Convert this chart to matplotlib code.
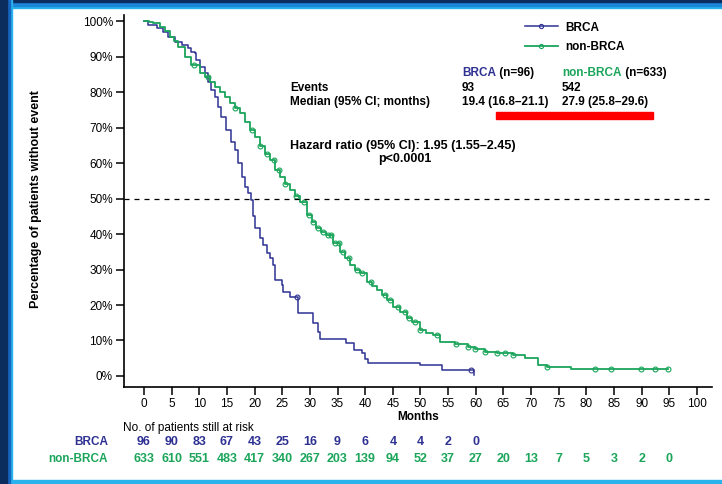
import numpy as np
import matplotlib
matplotlib.use("Agg")
import matplotlib.pyplot as plt
from matplotlib.patches import Rectangle
from matplotlib.lines import Line2D

plt.rcParams['font.family'] = ['Liberation Sans', 'DejaVu Sans']

BLUE = '#2e3192'
GREEN = '#1aa55a'

# Kaplan-Meier steps (months, % without event)
brca_t = [0, 0.8, 2.3, 3.5, 4.4, 5.6, 6.8, 8.0, 8.6, 9.2, 9.5, 10.1, 11.0, 11.6,
          12.2, 12.8, 13.4, 14.0, 14.9, 15.8, 16.5, 17.0, 17.7, 18.3, 18.9, 19.4,
          19.7, 20.1, 21.0, 21.5, 22.2, 22.8, 23.3, 23.7, 24.9, 25.2, 26.5, 27.9,
          30.6, 31.5, 31.8, 36.6, 37.9, 39.4, 40.0, 40.6, 49.9, 53.8, 59.6]
brca_s = [100, 98.9, 98.0, 97.0, 95.6, 94.2, 93.2, 92.3, 91.4, 90.9, 89.0, 87.1,
          85.3, 82.9, 80.6, 78.7, 75.8, 73.0, 69.3, 66.0, 63.7, 59.9, 56.1, 53.3,
          51.5, 49.6, 45.0, 41.7, 38.8, 36.9, 34.6, 33.2, 31.3, 27.0, 25.6, 23.7,
          22.3, 17.7, 14.9, 12.5, 10.4, 9.4, 7.3, 6.4, 4.8, 3.8, 3.1, 1.7, 0.3]
brca_cens = [27.6, 59.2]

non_t = [0, 1.0, 1.7, 2.9, 3.8, 4.7, 5.5, 6.2, 7.4, 8.6, 10.1, 11.0, 11.9, 12.8,
         13.7, 14.6, 15.6, 16.5, 17.4, 18.3, 19.2, 20.1, 21.0, 21.9, 22.8, 23.7,
         24.6, 25.5, 26.4, 27.3, 28.2, 29.4, 30.3, 31.2, 32.1, 33.0, 34.2, 35.4,
         36.3, 37.3, 38.2, 39.1, 40.3, 41.2, 42.1, 43.0, 43.9, 45.1, 46.3, 47.5,
         48.5, 49.9, 51.0, 52.3, 53.5, 56.2, 58.6, 59.9, 61.7, 63.8, 66.8, 68.9,
         71.3, 72.8, 75.2, 77.3, 94.8]
non_s = [100, 99.7, 99.5, 98.4, 97.2, 95.6, 94.3, 92.8, 90.0, 87.6, 85.3, 84.2,
         82.9, 81.5, 80.1, 78.5, 76.8, 75.4, 74.0, 71.5, 69.3, 67.2, 64.8, 62.5,
         60.8, 58.0, 56.1, 54.0, 52.4, 50.6, 49.1, 45.4, 43.5, 41.6, 40.6, 39.7,
         37.4, 35.0, 33.2, 31.3, 30.0, 28.9, 26.6, 25.4, 24.2, 22.8, 21.4, 19.5,
         18.1, 16.2, 15.3, 13.0, 12.2, 11.5, 9.7, 8.9, 8.2, 7.5, 6.8, 6.6, 5.9,
         5.0, 3.1, 2.6, 2.4, 1.9, 1.9]
non_cens = [9.0, 11.5, 16.5, 19.5, 21.0, 22.3, 23.5, 24.5, 25.5, 27.5, 29.0, 29.8,
            30.5, 31.5, 32.3, 33.2, 33.8, 34.5, 35.2, 36.0, 37.0, 38.5, 39.5, 41.0,
            43.5, 44.5, 46.0, 47.2, 48.0, 49.0, 50.0, 53.0, 56.5, 58.6, 59.9, 61.7,
            63.8, 65.2, 66.8, 72.8, 81.6, 84.4, 89.8, 92.4, 94.7]

# numbers at risk
risk_months = [0, 5, 10, 15, 20, 25, 30, 35, 40, 45, 50, 55, 60, 65, 70, 75, 80, 85, 90, 95]
brca_risk = [96, 90, 83, 67, 43, 25, 16, 9, 6, 4, 4, 2, 0]
non_risk = [633, 610, 551, 483, 417, 340, 267, 203, 139, 94, 52, 37, 27, 20, 13, 7, 5, 3, 2, 0]


def surv_at(times, ts, ss):
    idx = np.searchsorted(ts, times, side='right') - 1
    return np.array(ss)[idx]


W, H = 722, 484
fig = plt.figure(figsize=(W / 100, H / 100), dpi=100)
fig.patch.set_facecolor('white')

# slide frame
def px_rect(x0, y0, w, h, c, z=0):
    fig.patches.append(Rectangle((x0 / W, 1 - (y0 + h) / H), w / W, h / H,
                                 transform=fig.transFigure, color=c, zorder=z))

px_rect(0, 0, W, 8, '#29b2ec')
px_rect(0, 0, W, 6, '#1b86d8')
px_rect(0, 0, W, 2, '#0b2d5e')
px_rect(0, 480, W, 4, '#29b2ec')
px_rect(0, 0, 12, H, '#29b2ec')
px_rect(0, 0, 10, H, '#1665c1')
px_rect(0, 0, 7, H, '#0b2d5e')

ax = fig.add_axes([124 / W, 1 - 387 / H, (712 - 124) / W, (387 - 15) / H])
ax.set_xlim(-3.6, 102.7)
ax.set_ylim(-3.1, 101.7)

ax.step(brca_t, brca_s, where='post', color=BLUE, lw=1.1)
ax.step(non_t, non_s, where='post', color=GREEN, lw=1.3)
ax.plot(brca_cens, surv_at(brca_cens, brca_t, brca_s), 'o', ms=3.5, mfc='none',
        mec=BLUE, mew=0.8)
ax.plot(non_cens, surv_at(non_cens, non_t, non_s), 'o', ms=3.5, mfc='none',
        mec=GREEN, mew=0.8)

ax.axhline(50, color='black', lw=0.9, ls=(0, (4, 4)))

for s in ['top', 'right']:
    ax.spines[s].set_visible(False)
for s in ['left', 'bottom']:
    ax.spines[s].set_linewidth(1.2)

ax.set_xticks(np.arange(0, 101, 5))
ax.set_yticks(np.arange(0, 101, 10))
ax.set_yticklabels([f'{v}%' for v in range(0, 101, 10)])
ax.tick_params(axis='both', direction='out', length=6, width=1.1, labelsize=8.5, pad=2)
ax.set_xlabel('Months', fontsize=8.5, fontweight='bold', labelpad=1)
fig.text(36 / W, 1 - 199 / H, 'Percentage of patients without event', rotation=90,
         ha='center', va='center', fontsize=9, fontweight='bold')

# legend
handles = [Line2D([], [], color=BLUE, lw=1.1, marker='o', ms=3, mfc='none', mew=0.8),
           Line2D([], [], color=GREEN, lw=1.3, marker='o', ms=3, mfc='none', mew=0.8)]
fig.legend(handles, ['BRCA', 'non-BRCA'], loc='upper left',
           bbox_to_anchor=(514 / W, 1 - 11 / H), frameon=False,
           prop={'size': 8.5, 'weight': 'bold'}, handlelength=2.8, handletextpad=0.6,
           labelspacing=0.65)

# summary table
def ftext(x, y, s, **kw):
    kw.setdefault('fontsize', 8.5)
    kw.setdefault('fontweight', 'bold')
    kw.setdefault('va', 'center')
    return fig.text(x / W, 1 - y / H, s, **kw)

t1 = ftext(462, 73, 'BRCA', color=BLUE)
t2 = ftext(562, 73, 'non-BRCA', color=GREEN)
fig.canvas.draw()
r = fig.canvas.get_renderer()
for t, s in [(t1, ' (n=96)'), (t2, ' (n=633)')]:
    bb = t.get_window_extent(r)
    ftext(bb.x1, 73, s)

ftext(290, 88, 'Events')
ftext(462, 88, '93')
ftext(562, 88, '542')
ftext(290, 102, 'Median (95% CI; months)')
ftext(462, 102, '19.4 (16.8\u201321.1)')
ftext(562, 102, '27.9 (25.8\u201329.6)')
px_rect(496, 112, 157, 7, '#ff0000', z=3)
ftext(290, 146, 'Hazard ratio (95% CI): 1.95 (1.55\u20132.45)', fontsize=9)
ftext(405, 159, 'p<0.0001', ha='center', fontsize=9)

# numbers at risk
ftext(123, 428, 'No. of patients still at risk', fontweight='normal')
ftext(108, 442, 'BRCA', color=BLUE, ha='right')
ftext(108, 459, 'non-BRCA', color=GREEN, ha='right')
for m, n in zip(risk_months, brca_risk):
    ax.annotate(str(n), (m, 0), xycoords=('data', 'axes fraction'),
                xytext=(0, -(442 - 387)), textcoords='offset pixels',
                ha='center', va='center', fontsize=9, fontweight='bold', color=BLUE,
                annotation_clip=False)
for m, n in zip(risk_months, non_risk):
    ax.annotate(str(n), (m, 0), xycoords=('data', 'axes fraction'),
                xytext=(0, -(459 - 387)), textcoords='offset pixels',
                ha='center', va='center', fontsize=9, fontweight='bold', color=GREEN,
                annotation_clip=False)

fig.savefig('out.png', dpi=100, facecolor='white')
